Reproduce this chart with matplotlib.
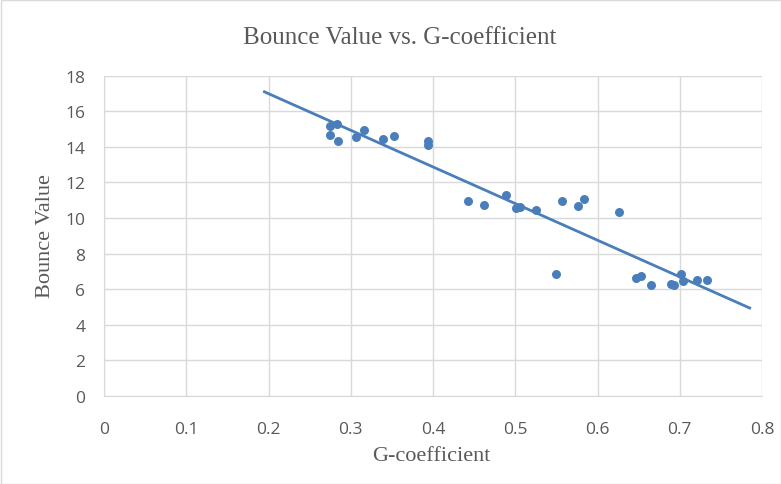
import numpy as np
import matplotlib
matplotlib.use("Agg")
import matplotlib.pyplot as plt

# values
g_coef = [0.2745, 0.283, 0.275, 0.284, 0.306, 0.316, 0.339, 0.3525, 0.394, 0.394,
          0.443, 0.462, 0.489, 0.5007, 0.5055, 0.525, 0.5566, 0.576, 0.5837, 0.626,
          0.550, 0.647, 0.6526, 0.6647, 0.689, 0.6925, 0.7019, 0.704, 0.7214, 0.7337]
bounce = [15.16, 15.31, 14.69, 14.32, 14.54, 14.97, 14.47, 14.6, 14.32, 14.13,
          10.95, 10.73, 11.27, 10.54, 10.62, 10.45, 10.95, 10.67, 11.05, 10.34,
          6.84, 6.62, 6.75, 6.24, 6.32, 6.24, 6.84, 6.47, 6.51, 6.52]
trend_range = [0.195, 0.785]

blue = "#4a7ebb"
grid_c = "#d9d9d9"
txt_c = "#595959"

fig = plt.figure(figsize=(7.81, 4.85), dpi=100)
ax = fig.add_axes([104 / 781, 1 - 397 / 485, (762 - 104) / 781, (397 - 76.7) / 485])

ax.scatter(g_coef, bounce, s=42, color=blue, zorder=3, linewidths=0)

# linear trendline (least squares), drawn over the forecast range
k, b = np.polyfit(g_coef, bounce, 1)
tx = np.array(trend_range)
ax.plot(tx, k * tx + b, color=blue, lw=2, zorder=2)

ax.set_xlim(0, 0.8)
ax.set_ylim(0, 18)
ax.set_xticks(np.arange(0, 0.81, 0.1))
ax.set_xticklabels(["0", "0.1", "0.2", "0.3", "0.4", "0.5", "0.6", "0.7", "0.8"])
ax.set_yticks(range(0, 19, 2))
ax.grid(True, color=grid_c, lw=1)
ax.set_axisbelow(True)
ax.tick_params(length=0, labelsize=12.5, labelcolor=txt_c)
ax.tick_params(axis="x", pad=18)
ax.tick_params(axis="y", pad=13.5)
for t in ax.get_xticklabels() + ax.get_yticklabels():
    t.set_family("Open Sans")
for s in ax.spines.values():
    s.set_visible(False)
ax.spines["left"].set_visible(True)
ax.spines["bottom"].set_visible(True)
ax.spines["left"].set_color(grid_c)
ax.spines["bottom"].set_color(grid_c)

fig.text(431 / 781, 1 - 457 / 485, "G-coefficient", family="Liberation Serif",
         fontsize=16, color=txt_c, ha="center", va="center")
fig.text(45 / 781, 1 - 236 / 485, "Bounce Value", family="Liberation Serif",
         fontsize=16, color=txt_c, ha="center", va="center", rotation=90)
fig.text(400 / 781, 1 - 38 / 485, "Bounce Value vs. G-coefficient", family="Liberation Serif",
         fontsize=18, color=txt_c, ha="center", va="center")

# chart border
fig.patches.append(plt.Rectangle((0.5 / 781, 0.5 / 485), 1 - 1 / 781, 1 - 1 / 485,
                                 transform=fig.transFigure, fill=False,
                                 edgecolor=grid_c, lw=1))

fig.savefig("out.png", dpi=100)
